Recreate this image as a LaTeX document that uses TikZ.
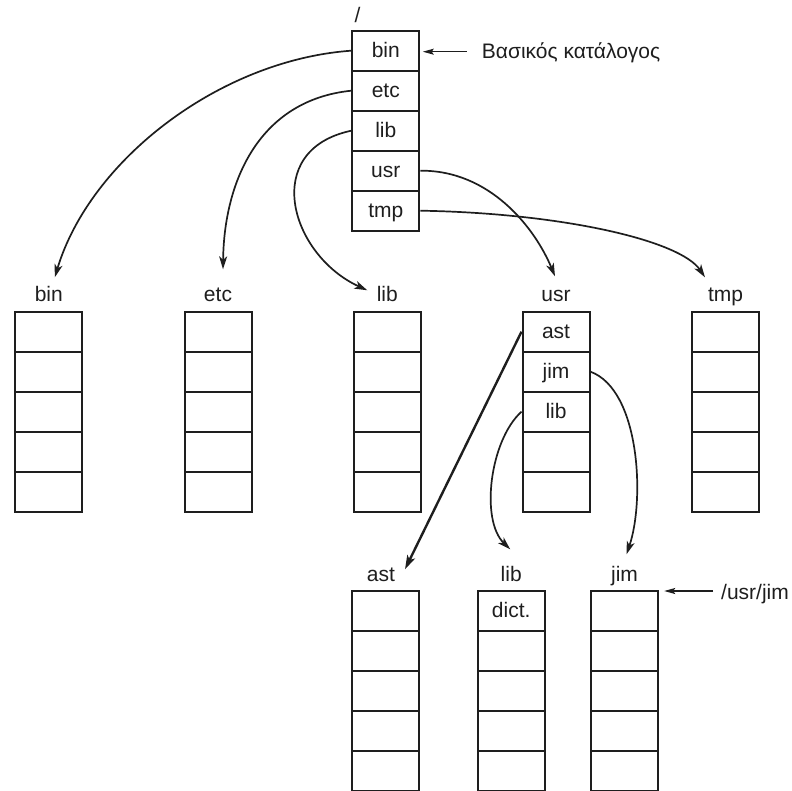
\documentclass[tikz,border=0pt]{standalone}
\usepackage{fontspec}
\setmainfont{Liberation Sans}
\usetikzlibrary{arrows.meta,calc}
\definecolor{ink}{RGB}{30,30,30}
\newcommand\dircol[4]{\foreach \t [count=\i] in {#4} {\node[cell] (#1-\i) at (#2,{#3+20+40*(\i-1)}) {\t};}}
\begin{document}
\begin{tikzpicture}[x=1pt,y=-1pt,
  cell/.style={draw=ink, line width=2pt, minimum width=67pt, minimum height=40pt, inner sep=0pt,
    text height=14.5pt, text depth=0pt, font=\fontsize{21}{25}\selectfont, text=ink},
  lbl/.style={inner sep=0pt, text height=15pt, text depth=0pt, anchor=base,
    font=\fontsize{21}{25}\selectfont, text=ink},
  curvearrow/.style={draw=ink, line width=1.7pt, -{Stealth[length=13pt,width=8pt,inset=3.5pt]}},
  astarrow/.style={draw=ink, line width=2.4pt, -{Stealth[length=14pt,width=8.5pt,inset=3.5pt]}},
  thinarrow/.style={draw=ink, line width=1.1pt, -{Stealth[length=11pt,width=6pt,inset=2pt]}}]
\useasboundingbox (0,0) rectangle (792,791);

% root directory
\dircol{root}{385.8}{30.7}{bin,etc,lib,usr,tmp}
\node[lbl] (lbl-root) at (357.5,22.5) {/};

% second level
\dircol{bin}{48.8}{311.7}{{},{},{},{},{}}
\dircol{etc}{218}{311.7}{{},{},{},{},{}}
\dircol{lib}{387.3}{311.7}{{},{},{},{},{}}
\dircol{usr}{556}{311.7}{ast,jim,lib,{},{}}
\dircol{tmp}{725.5}{311.7}{{},{},{},{},{}}
\node[lbl] (lbl-bin) at (48.8,301.5) {bin};
\node[lbl] (lbl-etc) at (218,301.5) {etc};
\node[lbl] (lbl-lib) at (387.3,301.5) {lib};
\node[lbl] (lbl-usr) at (556,301.5) {usr};
\node[lbl] (lbl-tmp) at (725.5,301.5) {tmp};

% third level
\dircol{ast}{385.8}{590.5}{{},{},{},{},{}}
\dircol{ulib}{511.2}{590.5}{dict.,{},{},{},{}}
\dircol{jim}{624.2}{590.5}{{},{},{},{},{}}
\node[lbl] (lbl-ast) at (381,581.5) {ast};
\node[lbl] (lbl-ulib) at (511.2,581.5) {lib};
\node[lbl] (lbl-jim) at (624.5,581.5) {jim};

% annotations
\node[lbl, anchor=base west] (basic) at (481.7,59) {Βασικός κατάλογος};
\node[lbl, anchor=base west] (usrjim) at (721,599.5) {/usr/jim};
\draw[thinarrow] ($(root-1.east -| basic.west)+(-15,1)$) -- ($(root-1.east)+(2.5,1)$);
\draw[thinarrow] ($(jim-1.north east -| usrjim.west)+(-8,1.5)$) -- ($(jim-1.north east)+(5.5,1.5)$);

% connectors from root
\draw[curvearrow] (root-1.west) .. controls (220,60) and (90,160) .. ([shift={(6,-9)}]lbl-bin.north);
\draw[curvearrow] (root-2.west) .. controls (260,100) and (224,180) .. ([shift={(5,-17)}]lbl-etc.north);
\draw[curvearrow] (root-3.west) .. controls (260,150) and (290,255) .. ([shift={(-20,4)}]lbl-lib.north);
\draw[curvearrow] (root-4.east) .. controls (490,170) and (535,228) .. ([shift={(-1,-10)}]lbl-usr.north);
\draw[curvearrow] (root-5.east) .. controls (560,213) and (680,240) .. ([shift={(-20.5,-9)}]lbl-tmp.north);

% connectors from usr
\draw[astarrow] (usr-1.west) -- ([shift={(24,3)}]lbl-ast.north);
\draw[curvearrow] (usr-3.west) .. controls (490,440) and (480,520) .. ([shift={(-1,-17)}]lbl-ulib.north);
\draw[curvearrow] (usr-2.east) .. controls (640,390) and (645,500) .. ([shift={(2,-12)}]lbl-jim.north);
\end{tikzpicture}
\end{document}
